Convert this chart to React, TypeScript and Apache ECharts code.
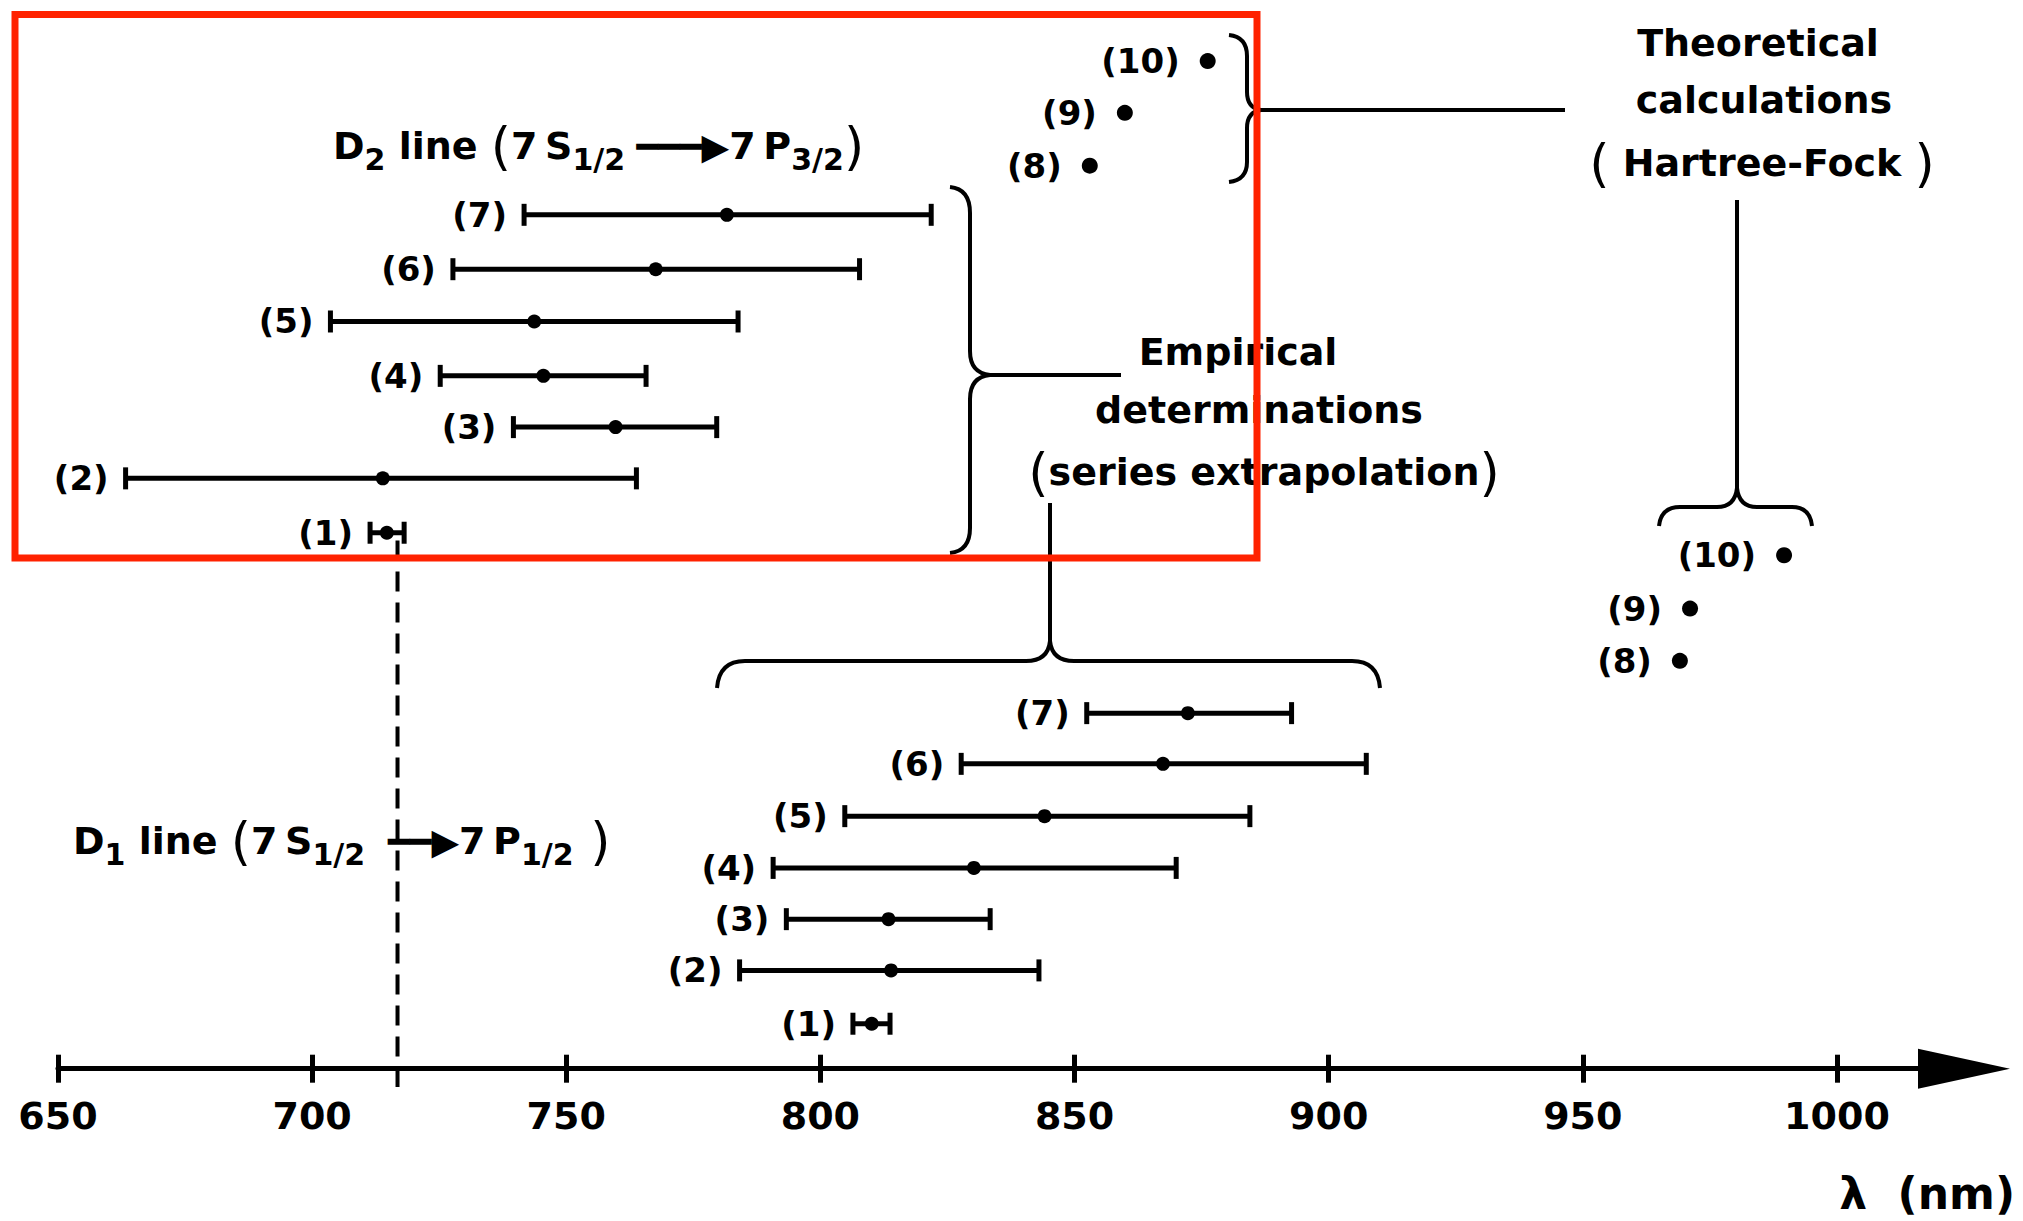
import React, { useEffect, useRef } from 'react';
import * as echarts from 'echarts';

const FONT = "'DejaVu Sans', 'Liberation Sans', sans-serif";

// ---------- data ----------
const barLabels = ['(1)', '(2)', '(3)', '(4)', '(5)', '(6)', '(7)'];

// D2 line (7S1/2 -> 7P3/2), empirical determinations
const d2Center = [714.7, 713.9, 759.7, 745.5, 743.7, 767.6, 781.6];
const d2Low = [711.4, 663.3, 739.6, 725.2, 703.6, 727.7, 741.7];
const d2High = [718.1, 763.8, 779.6, 765.7, 783.8, 807.7, 821.8];
const d2Row = [10.25, 11.29, 12.27, 13.25, 14.29, 15.29, 16.33];

// D1 line (7S1/2 -> 7P1/2), empirical determinations
const d1Center = [810.1, 813.9, 813.4, 830.2, 844.1, 867.4, 872.3];
const d1Low = [806.4, 784.1, 793.3, 790.7, 804.8, 827.7, 852.4];
const d1High = [813.7, 843.0, 833.4, 870.0, 884.5, 907.4, 892.7];
const d1Row = [0.86, 1.88, 2.86, 3.84, 4.83, 5.83, 6.8];

// Theoretical calculations (Hartree-Fock)
const theoLabels = ['(8)', '(9)', '(10)'];
const theoD2 = [853.0, 859.9, 876.2];
const theoD2Row = [17.27, 18.28, 19.27];
const theoD1 = [969.1, 971.1, 989.6];
const theoD1Row = [7.8, 8.8, 9.82];

// measured line (dashed)
const measuredLambda = 716.8;
const measuredRows = [10.1, -0.35];

const xTicks = [650, 700, 750, 800, 850, 900, 950, 1000];

// ---------- annotation shapes (braces) ----------
const braceD2 =
  'M950 187 Q970 189 970 213 L970 351 Q970 373 990 375 Q970 377 970 399 L970 528 Q970 551 950 553 M990 375 L1121 375';
const braceTheoTop =
  'M1229 35 Q1247 37 1247 56 L1247 92 Q1247 108 1261 110 Q1247 112 1247 128 L1247 162 Q1247 180 1229 182 M1261 110 L1565 110';
const braceD1 =
  'M717 688 Q719 661 745 661 L1026 661 Q1048 661 1050 641 Q1052 661 1074 661 L1352 661 Q1378 661 1380 688 M1050 641 L1050 503';
const braceTheoBottom =
  'M1659 526 Q1661 507 1680 507 L1717 507 Q1735 507 1737 488 Q1739 507 1757 507 L1792 507 Q1810 507 1812 526 M1737 488 L1737 200';

echarts.graphic.registerShape('braceD2', echarts.graphic.extendPath(braceD2, {}) as any);
echarts.graphic.registerShape('braceTheoTop', echarts.graphic.extendPath(braceTheoTop, {}) as any);
echarts.graphic.registerShape('braceD1', echarts.graphic.extendPath(braceD1, {}) as any);
echarts.graphic.registerShape('braceTheoBottom', echarts.graphic.extendPath(braceTheoBottom, {}) as any);

const makeRenderer = (labels: string[]) => (params: any, api: any) => {
  const lo = api.value(0);
  const hi = api.value(1);
  const mid = api.value(2);
  const row = api.value(3);
  const p0 = api.coord([lo, row]);
  const p1 = api.coord([hi, row]);
  const pc = api.coord([mid, row]);
  const capH = 11;
  const st = { stroke: '#000', lineWidth: 5, lineCap: 'butt' };
  return {
    type: 'group',
    children: [
      { type: 'line', shape: { x1: p0[0], y1: p0[1], x2: p1[0], y2: p1[1] }, style: st },
      { type: 'line', shape: { x1: p0[0], y1: p0[1] - capH, x2: p0[0], y2: p0[1] + capH }, style: st },
      { type: 'line', shape: { x1: p1[0], y1: p1[1] - capH, x2: p1[0], y2: p1[1] + capH }, style: st },
      { type: 'circle', shape: { cx: pc[0], cy: pc[1], r: 7 }, style: { fill: '#000' } },
      {
        type: 'text',
        x: p0[0] - 17,
        y: p0[1],
        style: {
          text: labels[params.dataIndex],
          fill: '#000',
          fontSize: 34,
          fontFamily: FONT,
          fontWeight: 'bold',
          align: 'right',
          verticalAlign: 'middle',
        },
      },
    ],
  };
};

const richBase = {
  m: { fontSize: 38, fontFamily: FONT, fontWeight: 'bold', lineHeight: 56, verticalAlign: 'middle', fill: '#000' },
  s: { fontSize: 30, fontFamily: FONT, fontWeight: 'bold', lineHeight: 13, verticalAlign: 'bottom', fill: '#000' },
  p: { fontSize: 52, fontFamily: FONT, fontWeight: 'normal', lineHeight: 56, verticalAlign: 'middle', fill: '#000' },
  a: { fontSize: 36, fontFamily: FONT, fontWeight: 'normal', lineHeight: 56, verticalAlign: 'middle', fill: '#000' },
};

const blockText = (x: number, y: number, text: string, align = 'center') => ({
  type: 'text',
  x,
  y,
  z: 50,
  style: {
    text,
    rich: richBase,
    align,
    verticalAlign: 'middle',
    fill: '#000',
    fontSize: 38,
    fontFamily: FONT,
    fontWeight: 'bold',
  },
});

const scatterLabel = {
  show: true,
  position: 'left',
  distance: 20,
  formatter: (p: any) => theoLabels[p.dataIndex],
  color: '#000',
  opacity: 1,
  fontSize: 34,
  fontFamily: FONT,
  fontWeight: 'bold',
};

const option: any = {
  animation: false,
  backgroundColor: '#fff',
  textStyle: { fontFamily: FONT },
  grid: { left: 58, right: 59, top: 2, bottom: 152.3, containLabel: false, outerBoundsMode: 'none' },
  xAxis: [
    {
      type: 'value',
      min: 650,
      max: 1025,
      position: 'bottom',
      splitLine: { show: false },
      axisLine: {
        show: true,
        symbol: ['none', 'triangle'],
        symbolSize: [40, 92],
        lineStyle: { color: '#000', width: 5 },
      },
      axisTick: { show: true, length: 14, customValues: xTicks, lineStyle: { color: '#000', width: 5 } },
      axisLabel: {
        show: true,
        customValues: xTicks,
        formatter: (v: number) => String(v),
        margin: 28,
        color: '#000',
        fontSize: 38,
        fontFamily: FONT,
        fontWeight: 'bold',
      },
    },
    {
      type: 'value',
      min: 650,
      max: 1025,
      position: 'bottom',
      splitLine: { show: false },
      axisLine: { show: false },
      axisLabel: { show: false },
      axisTick: { show: true, inside: true, length: 14, customValues: xTicks, lineStyle: { color: '#000', width: 5 } },
    },
  ],
  yAxis: { type: 'value', min: 0, max: 20.4, show: false, splitLine: { show: false } },
  series: [
    {
      type: 'custom',
      name: 'D2 empirical',
      renderItem: makeRenderer(barLabels),
      encode: { x: [0, 1, 2], y: 3 },
      clip: false,
      silent: true,
      data: d2Low.map((lo, i) => [lo, d2High[i], d2Center[i], d2Row[i]]),
    },
    {
      type: 'custom',
      name: 'D1 empirical',
      renderItem: makeRenderer(barLabels),
      encode: { x: [0, 1, 2], y: 3 },
      clip: false,
      silent: true,
      data: d1Low.map((lo, i) => [lo, d1High[i], d1Center[i], d1Row[i]]),
    },
    {
      type: 'scatter',
      name: 'D2 theoretical',
      symbolSize: 16,
      itemStyle: { color: '#000', opacity: 1 },
      silent: true,
      label: scatterLabel,
      data: theoD2.map((v, i) => [v, theoD2Row[i]]),
    },
    {
      type: 'scatter',
      name: 'D1 theoretical',
      symbolSize: 16,
      itemStyle: { color: '#000', opacity: 1 },
      silent: true,
      label: scatterLabel,
      data: theoD1.map((v, i) => [v, theoD1Row[i]]),
    },
    {
      type: 'line',
      name: 'measured',
      showSymbol: false,
      symbol: 'none',
      clip: false,
      silent: true,
      lineStyle: { color: '#000', width: 4, type: [20, 11] },
      data: measuredRows.map((r) => [measuredLambda, r]),
    },
  ],
  graphic: [
    { type: 'braceD2', z: 40, style: { fill: 'none', stroke: '#000', lineWidth: 4 } },
    { type: 'braceTheoTop', z: 40, style: { fill: 'none', stroke: '#000', lineWidth: 4 } },
    { type: 'braceD1', z: 40, style: { fill: 'none', stroke: '#000', lineWidth: 4 } },
    { type: 'braceTheoBottom', z: 40, style: { fill: 'none', stroke: '#000', lineWidth: 4 } },
    blockText(333, 146, '{m|D}{s|2}{m| line }{p|(}{m|7\u2009S}{s|1/2}{a| ━━━▶}{m|7\u2009P}{s|3/2}{p|)}', 'left'),
    blockText(73, 841, '{m|D}{s|1}{m| line }{p|(}{m|7\u2009S}{s|1/2}{a|  ━━▶}{m|7\u2009P}{s|1/2}{p| )}', 'left'),
    blockText(1758, 43, '{m|Theoretical}'),
    blockText(1764, 100, '{m|calculations}'),
    blockText(1762, 163, '{p|(}{m| Hartree-Fock }{p|)}'),
    blockText(1238, 352, '{m|Empirical}'),
    blockText(1259, 410, '{m|determinations}'),
    blockText(1264, 472, '{p|(}{m|series extrapolation}{p|)}'),
    {
      type: 'text',
      x: 2015,
      y: 1193,
      z: 50,
      style: {
        text: 'λ  (nm)',
        align: 'right',
        verticalAlign: 'middle',
        fill: '#000',
        fontSize: 44,
        fontFamily: FONT,
        fontWeight: 'bold',
      },
    },
    {
      type: 'rect',
      z: 100,
      shape: { x: 15, y: 14.5, width: 1242, height: 543.5 },
      style: { fill: 'none', stroke: '#ff2200', lineWidth: 7 },
    },
  ],
};

export default function App() {
  const ref = useRef<HTMLDivElement>(null);
  useEffect(() => {
    document.body.style.margin = '0';
    const chart = echarts.init(ref.current as HTMLDivElement, null, { renderer: 'svg', width: 2023, height: 1221 });
    chart.setOption(option);
    return () => chart.dispose();
  }, []);
  return <div ref={ref} style={{ width: 2023, height: 1221, background: '#fff' }} />;
}
